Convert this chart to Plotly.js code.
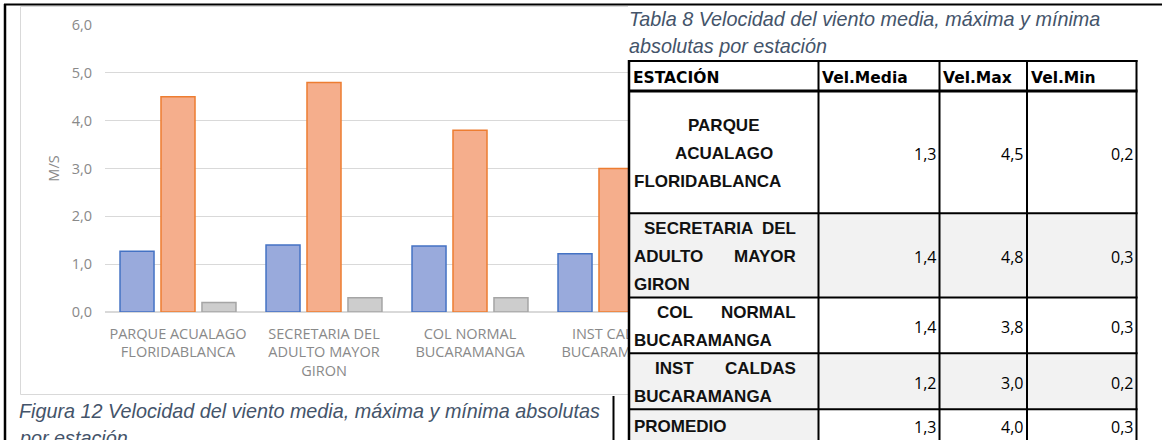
<!DOCTYPE html>
<html><head><meta charset="utf-8">
<script src="https://cdn.plot.ly/plotly-3.0.1.min.js"></script>
<style>html,body{margin:0;padding:0;background:#fff;overflow:hidden}#chart{width:1162px;height:440px}</style>
</head><body><div id="chart"></div>
<script>
// ---------- chart data ----------
const stations = ['PARQUE ACUALAGO<br>FLORIDABLANCA', 'SECRETARIA DEL<br>ADULTO MAYOR<br>GIRON', 'COL NORMAL<br>BUCARAMANGA', 'INST CALDAS<br>BUCARAMANGA'];
const velMedia = [1.27, 1.40, 1.38, 1.22];
const velMax = [4.5, 4.8, 3.8, 3.0];
const velMin = [0.2, 0.3, 0.3, 0.2];
const seriesNames = ['Vel.Media', 'Vel.Max', 'Vel.Min'];
const yTicks = [0, 1, 2, 3, 4, 5, 6];
const yAxisTitle = 'M/S';
const figCaption = ['Figura 12 Velocidad del viento media, máxima y mínima absolutas', 'por estación'];
// ---------- table data ----------
const tableCaption = ['Tabla 8 Velocidad del viento media, máxima y mínima', 'absolutas por estación'];
const tableHeader = ['ESTACIÓN', 'Vel.Media', 'Vel.Max', 'Vel.Min'];
const tableStations = [['PARQUE', 'ACUALAGO', 'FLORIDABLANCA'], ['SECRETARIA DEL', 'ADULTO MAYOR', 'GIRON'], ['COL NORMAL', 'BUCARAMANGA'], ['INST CALDAS', 'BUCARAMANGA'], ['PROMEDIO']];
const tableMedia = ['1,3', '1,4', '1,4', '1,2', '1,3'];
const tableMax = ['4,5', '4,8', '3,8', '3,0', '4,0'];
const tableMin = ['0,2', '0,3', '0,3', '0,2', '0,3'];

// ---------- geometry / style ----------
const W = 1162, H = 440;
const ML = 105, MT = 25, PW = 584, PH = 287;
const X = p => (p - ML) / PW;
const Y = p => (MT + PH - p) / PH;
const rowY = [61, 91, 213.3, 297.5, 353.3, 409.3, 440];
const colX = [629, 818.5, 939.5, 1027, 1136.5];
const rowFill = [['#fff','#fff','#fff','#fff'], ['#F2F2F2','#F2F2F2','#F2F2F2','#F2F2F2'], ['#fff','#fff','#fff','#fff'], ['#F2F2F2','#F2F2F2','#F2F2F2','#F2F2F2'], ['#F2F2F2','#fff','#fff','#fff']];
const firstIndent = [0, 10, 23, 21, 0];
const labelLeft = 634, labelRight = 796;
const capFont = {family: "'Liberation Sans', Arial, sans-serif", size: 19.8, color: '#44546A', style: 'italic'};
const lblFont = {family: "'Liberation Sans', Arial, sans-serif", size: 17, color: '#111', weight: 'bold'};
const hdrFont = {family: "'DejaVu Sans', sans-serif", size: 15.5, color: '#000', weight: 'bold'};
const numFont = {family: "'Open Sans', sans-serif", size: 16, color: '#000'};
const axisFont = {family: "'Open Sans', sans-serif", size: 14.5, color: '#898989'};

const shapes = [];
const ann = [];
function rect(x0, y0, x1, y1, fill, line, layer) {
  shapes.push({type: 'rect', xref: 'paper', yref: 'paper', x0: X(x0), x1: X(x1), y0: Y(y0), y1: Y(y1),
    fillcolor: fill || 'rgba(0,0,0,0)', line: line || {width: 0}, layer: layer || 'above'});
}
function seg(x0, y0, x1, y1, color, width) {
  shapes.push({type: 'line', xref: 'paper', yref: 'paper', x0: X(x0), x1: X(x1), y0: Y(y0), y1: Y(y1),
    line: {color: color, width: width}, layer: 'above'});
}
function text(t, x, y, font, xanchor) {
  ann.push({xref: 'paper', yref: 'paper', x: X(x), y: Y(y), text: t, showarrow: false, font: font,
    xanchor: xanchor || 'left', yanchor: 'middle', borderpad: 0, borderwidth: 0});
}

// chart frame
rect(20.5, 6.5, 700, 394.5, null, {color: '#D9D9D9', width: 1}, 'below');
// white area covering the chart behind the table
rect(628, 6, 1170, 445, '#fff', {width: 0});
// table cell fills
for (let r = 0; r < tableStations.length; r++) {
  for (let c = 0; c < 4; c++) {
    if (rowFill[r][c] !== '#fff') rect(colX[c], rowY[r + 1], colX[c + 1], rowY[r + 2], rowFill[r][c]);
  }
}
// table grid
rowY.slice(0, 6).forEach((y, i) => seg(628, y, 1137.5, y, '#000', i === 1 ? 3 : 2));
colX.forEach((x, i) => seg(x, 60, x, 445, '#000', i === 0 ? 2.5 : 2));
// document frame lines
seg(4, 4.5, 1162, 4.5, '#000', 2);
seg(5, 4, 5, 445, '#000', 2.5);
seg(613.5, 396, 613.5, 445, '#000', 2);

// captions
figCaption.forEach((t, i) => text('<i>' + t + '</i>', 19, 411 + i * 27, capFont));
tableCaption.forEach((t, i) => text('<i>' + t + '</i>', 629, 19 + i * 27, capFont));
// header
tableHeader.forEach((t, c) => text(t, colX[c] + 3.5, 77.5, hdrFont));
// rows
const nums = [tableMedia, tableMax, tableMin];
tableStations.forEach((lines, r) => {
  const y0 = rowY[r + 1], y1 = rowY[r + 2];
  const cy = (y0 + y1) / 2 + 1.5;
  lines.forEach((ln, k) => {
    const ly = cy + (k - (lines.length - 1) / 2) * 28;
    const words = ln.split(' ');
    const last = k === lines.length - 1;
    if (last) text(ln, labelLeft, ly, lblFont);
    else if (words.length === 1) text(ln, (colX[0] + colX[1]) / 2, ly, lblFont, 'center');
    else {
      text(words[0], labelLeft + (k === 0 ? firstIndent[r] : 0), ly, lblFont);
      text(words.slice(1).join(' '), labelRight, ly, lblFont, 'right');
    }
  });
  nums.forEach((col, c) => text(col[r], colX[c + 2] - 4, (y0 + y1) / 2 + 2, numFont, 'right'));
});

const traces = [
  {type: 'bar', name: seriesNames[0], x: stations, y: velMedia, marker: {color: '#99AADC', line: {color: '#4472C4', width: 1.5}}},
  {type: 'bar', name: seriesNames[1], x: stations, y: velMax, marker: {color: '#F5AE8C', line: {color: '#ED7D31', width: 1.5}}},
  {type: 'bar', name: seriesNames[2], x: stations, y: velMin, marker: {color: '#CDCDCD', line: {color: '#A5A5A5', width: 1.5}}}
];

const layout = {
  width: W, height: H,
  margin: {l: ML, r: W - ML - PW, t: MT, b: H - MT - PH, pad: 0},
  paper_bgcolor: '#fff', plot_bgcolor: '#fff',
  separators: ',.',
  showlegend: false,
  barmode: 'group', bargap: 0.158, bargroupgap: 0.17,
  font: axisFont,
  xaxis: {type: 'category', range: [-0.5, 3.5], showgrid: false, zeroline: false, showline: false, ticks: '',
    tickfont: axisFont, ticklabelstandoff: 11, automargin: false, fixedrange: true},
  yaxis: {range: [0, 6], tickvals: yTicks, tickformat: '.1f', showgrid: true, gridcolor: '#D9D9D9', gridwidth: 1,
    zeroline: true, zerolinecolor: '#D9D9D9', zerolinewidth: 1.2, showline: false, ticks: '',
    tickfont: axisFont, ticklabelstandoff: 12, automargin: false, fixedrange: true,
    title: {text: yAxisTitle, font: axisFont, standoff: 8}},
  shapes: shapes,
  annotations: ann
};
Plotly.newPlot('chart', traces, layout, {displayModeBar: false, staticPlot: true});
</script></body></html>
